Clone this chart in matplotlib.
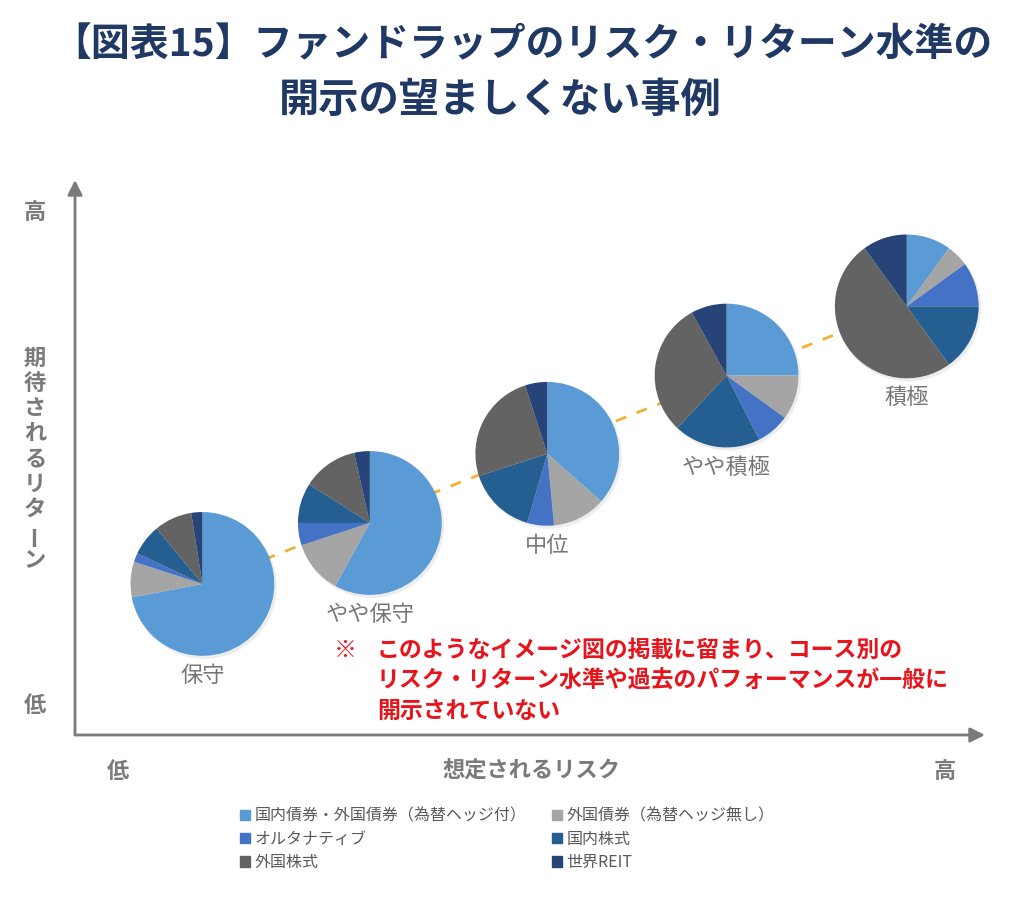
import numpy as np
import matplotlib.pyplot as plt
import matplotlib.patches as mpatches

plt.rcParams['font.family'] = ['Noto Sans CJK JP', 'DejaVu Sans']

#========data========
assets = ["国内債券・外国債券（為替ヘッジ付）", "外国債券（為替ヘッジ無し）",
          "オルタナティブ", "国内株式", "外国株式", "世界REIT"]
colors = ["#5B9BD5", "#A5A5A5", "#4472C4", "#255E91", "#636363", "#264478"]

courses = ["保守", "やや保守", "中位", "やや積極", "積極"]
# pie centres on a 0-10 risk scale (same unit on the return axis)
risk = [1.40, 3.24, 5.19, 7.16, 9.14]
ret = [1.66, 2.33, 3.09, 3.95, 4.71]

# allocation (%) for each course, in the order of `assets`
alloc = [
    [72.0, 8.0, 2.0, 7.0, 8.5, 2.5],
    [58.0, 12.0, 5.0, 9.0, 12.5, 3.5],
    [36.5, 12.0, 6.0, 15.5, 25.0, 5.0],
    [25.0, 10.0, 7.5, 19.5, 30.0, 8.0],
    [10.0, 5.0, 10.0, 15.0, 50.0, 10.0],
]

title1 = "【図表15】ファンドラップのリスク・リターン水準の"
title2 = "開示の望ましくない事例"
note = ["このようなイメージ図の掲載に留まり、コース別の",
        "リスク・リターン水準や過去のパフォーマンスが一般に",
        "開示されていない"]

#========figure========
W, H = 1024, 899
fig = plt.figure(figsize=(W / 100, H / 100), dpi=100)

def fx(px):
    return px / W

def fy(py):
    return 1 - py / H

# plot area: origin at (75, 735) px, arrow tips at x=985 / y=180
ax = fig.add_axes([fx(75), fy(735), fx(985 - 75), (735 - 180) / H])
xmax = 10.0
ymax = xmax * (735 - 180) / (985 - 75)
r = 0.79
axis_grey = "#7A7A7A"

# dashed trend line behind the pies
ax.plot([risk[0], risk[-1]], [ret[0], ret[-1]], ls=(0, (4, 4)),
        color="#F2B134", lw=2, zorder=1)

for i in range(len(courses)):
    # soft shadow
    ax.add_patch(mpatches.Circle((risk[i] + 0.02, ret[i] - 0.025), r * 1.01,
                                 color="#000000", alpha=0.07, lw=0, zorder=1.5))
    wedges, _ = ax.pie(alloc[i], colors=colors, startangle=90, counterclock=False,
                       center=(risk[i], ret[i]), radius=r, frame=True,
                       wedgeprops=dict(linewidth=0))
    for w in wedges:
        w.set_zorder(2)
    ax.annotate(courses[i], (risk[i], ret[i] - r), xytext=(0, -14),
                textcoords="offset points", ha="center", va="center",
                fontsize=16, color="#767676")

ax.set_xlim(0, xmax)
ax.set_ylim(0, ymax)
ax.set_aspect("equal", adjustable="box")
ax.set_xticks([])
ax.set_yticks([])
for s in ax.spines.values():
    s.set_visible(False)

# axis arrows
arrow = dict(arrowstyle="-|>", color=axis_grey, lw=2, mutation_scale=22,
             shrinkA=0, shrinkB=0)
ax.annotate("", xy=(0, 1), xytext=(0, 0), xycoords="axes fraction",
            arrowprops=arrow)
ax.annotate("", xy=(1, 0), xytext=(0, 0), xycoords="axes fraction",
            arrowprops=arrow)

#========text========
fig.text(fx(522), fy(45), title1, ha="center", va="center", fontsize=28,
         fontweight="bold", color="#1F3864")
fig.text(fx(500), fy(100), title2, ha="center", va="center", fontsize=29,
         fontweight="bold", color="#1F3864")

lab = dict(ha="center", va="center", fontsize=16, fontweight="bold", color=axis_grey)
fig.text(fx(35), fy(212), "高", **lab)
fig.text(fx(35), fy(706), "低", **lab)
fig.text(fx(118), fy(771), "低", **lab)
fig.text(fx(945), fy(771), "高", **lab)
fig.text(fx(532), fy(770), "想定されるリスク", **lab)

# vertical y-axis label, one character at a time
ylab = "期待されるリターン"
for k, ch in enumerate(ylab):
    fig.text(fx(35), fy(358 + k * 25.3), ch, rotation=90 if ch == "ー" else 0,
             **lab)

# red note
red = "#E8141B"
fig.text(fx(345), fy(650), "※", ha="center", va="center", fontsize=16.5,
         fontweight="bold", color=red)
for k, line in enumerate(note):
    fig.text(fx(377), fy(650 + k * 31), line, ha="left", va="center",
             fontsize=16.5, fontweight="bold", color=red)

#========legend========
handles = [mpatches.Patch(color=colors[i], label=assets[i]) for i in range(len(assets))]
order = [0, 2, 4, 1, 3, 5]
fig.legend([handles[i] for i in order], [assets[i] for i in order],
           loc="upper left", bbox_to_anchor=(fx(234), fy(801)), ncol=2,
           frameon=False, fontsize=11.5, labelcolor="#595959",
           handlelength=0.6, handleheight=0.6, handletextpad=0.3,
           columnspacing=1.6, labelspacing=0.4, borderaxespad=0)

fig.savefig("out.png", dpi=100)
